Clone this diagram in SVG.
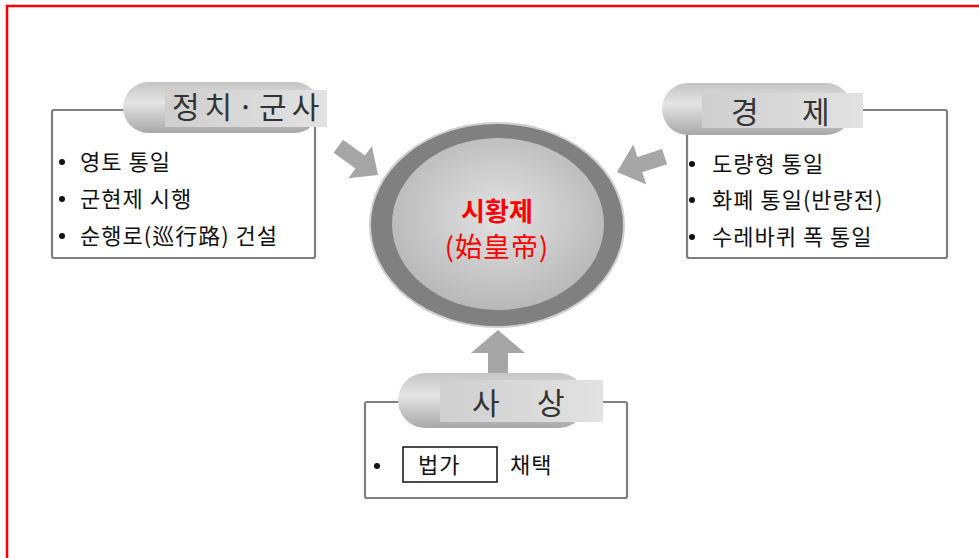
<svg xmlns="http://www.w3.org/2000/svg" width="979" height="558" viewBox="0 0 979 558">
  <style>
    .box { fill: #ffffff; stroke: #7f7f7f; stroke-width: 2.2; }
    .pill { fill: url(#pillGrad); }
    .label { fill: url(#labelGrad); }
    .head { font-family: "Noto Sans CJK KR", "Noto Sans", sans-serif; font-size: 30px; fill: #333333; }
    .item { font-family: "Noto Sans CJK KR", "Noto Sans", sans-serif; font-size: 22px; fill: #111111; letter-spacing: 1px; }
    .dot { fill: #111111; }
    .arrow { fill: #a6a6a6; }
  </style>
  <defs>
    <linearGradient id="pillGrad" x1="0" y1="0" x2="0" y2="1">
      <stop offset="0" stop-color="#c4c4c4"/>
      <stop offset="0.4" stop-color="#e4e4e4"/>
      <stop offset="1" stop-color="#a8a8a8"/>
    </linearGradient>
    <linearGradient id="labelGrad" x1="0" y1="0" x2="1" y2="0">
      <stop offset="0" stop-color="#cfcfcf"/>
      <stop offset="1" stop-color="#e2e2e2"/>
    </linearGradient>
    <radialGradient id="coreGrad" cx="0.5" cy="0.45" r="0.6">
      <stop offset="0" stop-color="#e2e2e2"/>
      <stop offset="1" stop-color="#b4b4b4"/>
    </radialGradient>
  </defs>

  <rect width="979" height="558" fill="#ffffff"/>
  <path d="M7 558 V6 H979" fill="none" stroke="#ff0000" stroke-width="2.5"/>

  <g id="connectors">
    <polygon class="arrow" transform="translate(378,175) rotate(36)" points="0,0 -22,-20 -22,-8 -49,-8 -49,8 -22,8 -22,20"/>
    <polygon class="arrow" transform="translate(617,172) rotate(162)" points="0,0 -24,-21 -24,-8 -50,-8 -50,8 -24,8 -24,21"/>
    <polygon class="arrow" transform="translate(498,330) rotate(-90)" points="0,0 -23,-27 -23,-10 -50,-10 -50,10 -23,10 -23,27"/>
  </g>

  <g id="center">
    <ellipse cx="497" cy="225" rx="127" ry="102" fill="#808080" stroke="#cfcfcf" stroke-width="2"/>
    <ellipse cx="498" cy="224" rx="106" ry="86" fill="url(#coreGrad)"/>
    <text x="497" y="221" text-anchor="middle" font-family="Noto Sans CJK KR, sans-serif" font-size="26" font-weight="bold" fill="#ff0000">시황제</text>
    <text x="497" y="257" text-anchor="middle" font-family="Noto Sans CJK KR, sans-serif" font-size="27" fill="#ff0000" letter-spacing="1">(始皇帝)</text>
  </g>

  <g id="politics">
    <rect class="box" x="52" y="110" width="263" height="148" rx="2"/>
    <rect class="pill" x="123" y="82" width="197" height="51" rx="25.5"/>
    <rect class="label" x="165" y="90" width="162" height="37"/>
    <text class="head" x="172" y="118" letter-spacing="5">정치·군사</text>
    <circle class="dot" cx="62" cy="162" r="3"/>
    <text class="item" x="80" y="170">영토 통일</text>
    <circle class="dot" cx="62" cy="199" r="3"/>
    <text class="item" x="80" y="207">군현제 시행</text>
    <circle class="dot" cx="62" cy="236" r="3"/>
    <text class="item" x="80" y="244">순행로(巡行路) 건설</text>
  </g>

  <g id="economy">
    <rect class="box" x="687" y="110" width="260" height="148" rx="2"/>
    <rect class="pill" x="662" y="83" width="190" height="52" rx="26"/>
    <rect class="label" x="702" y="93" width="161" height="35"/>
    <text class="head" x="731" y="123">경</text>
    <text class="head" x="802" y="123">제</text>
    <circle class="dot" cx="692" cy="164" r="3"/>
    <text class="item" x="712" y="172">도량형 통일</text>
    <circle class="dot" cx="692" cy="200" r="3"/>
    <text class="item" x="712" y="208">화폐 통일(반량전)</text>
    <circle class="dot" cx="692" cy="237" r="3"/>
    <text class="item" x="712" y="245">수레바퀴 폭 통일</text>
  </g>

  <g id="thought">
    <rect class="box" x="365" y="402" width="262" height="96" rx="2"/>
    <rect class="pill" x="398" y="373" width="188" height="55" rx="27.5"/>
    <rect class="label" x="440" y="380" width="163" height="42"/>
    <text class="head" x="472" y="414">사</text>
    <text class="head" x="537" y="414">상</text>
    <circle class="dot" cx="377" cy="466" r="3"/>
    <rect x="403" y="447" width="94" height="35" fill="#ffffff" stroke="#111111" stroke-width="1.5"/>
    <text class="item" x="418" y="473">법가</text>
    <text class="item" x="510" y="473">채택</text>
  </g>
</svg>
